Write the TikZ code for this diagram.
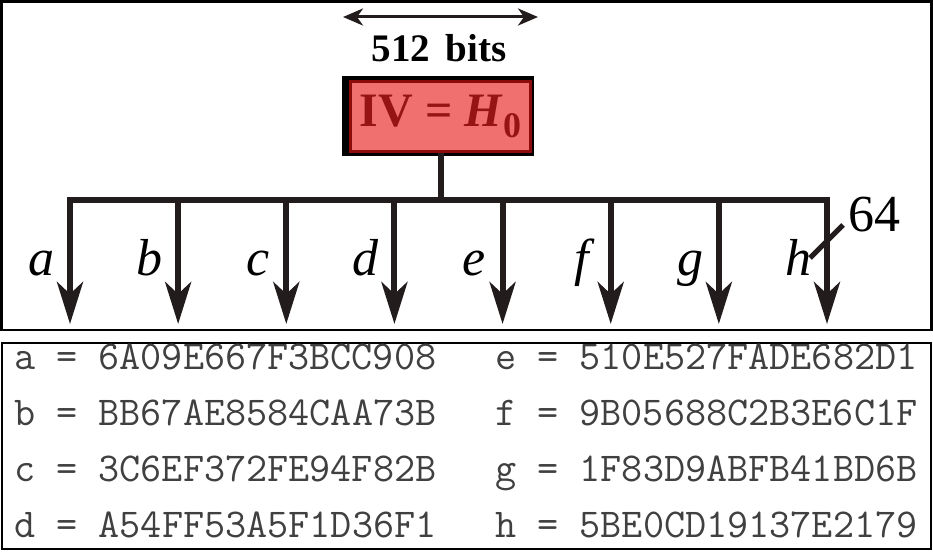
\documentclass[tikz,border=0pt]{standalone}
\usepackage{fontspec}
\setmainfont{Liberation Serif}
\usetikzlibrary{arrows.meta, positioning, calc}
\definecolor{ivfundo}{RGB}{240,112,112}
\definecolor{ivborda}{RGB}{140,12,12}
\definecolor{ivtexto}{RGB}{150,20,20}
\definecolor{seta}{RGB}{35,28,28}

\tikzset{
  ramo/.style={seta, line width=6pt, -{Stealth[length=42pt, width=26pt, inset=12pt]}},
  rotulo/.style={font=\fontsize{52}{52}\selectfont\itshape, anchor=base, inner sep=0pt},
  valor/.style={font=\fontsize{41}{41}\selectfont\ttfamily, text=black!75, anchor=base west, inner sep=0pt},
}

\begin{document}
\begin{tikzpicture}[x=1pt, y=-1pt]
    \useasboundingbox (0,0) rectangle (933,551);
    \draw[line width=2.5pt] (1.5,1.5) rectangle (931.5,330);
    \draw[line width=2pt] (2,343) rectangle (931,549);
    % largura do bloco
    \coordinate (w0) at (343,17);
    \coordinate (w1) at (538,17);
    \draw[seta, line width=3pt, {Stealth[length=20pt, width=17pt, inset=6pt]}-{Stealth[length=20pt, width=17pt, inset=6pt]}] (w0) -- (w1);
    \node[font=\fontsize{39}{39}\selectfont\bfseries, anchor=base, inner sep=0pt] (bits) at (439,62) {512\hspace{0.4em}bits};
    % valor inicial
    \fill[black] (342,76) rectangle (534,156);
    \node[fill=ivfundo, draw=ivborda, line width=3pt, minimum width=180pt, minimum height=70pt,
          text=ivtexto, font=\fontsize{48}{48}\selectfont\bfseries] (iv) at (440.5,116.5)
          {IV = \textit{H}\raisebox{-0.22em}{\fontsize{36}{36}\selectfont 0}};
    \foreach \i/\v in {0/a,1/b,2/c,3/d,4/e,5/f,6/g,7/h} {
        \coordinate (t\v) at (70+108.14*\i, 200);
        \coordinate (p\v) at (70+108.14*\i, 324);
        \draw[ramo] (t\v) -- (p\v);
        \node[rotulo] (r\v) at (41.5+108.14*\i, 275) {\v};
    }
    \draw[seta, line width=6pt, line cap=rect] (ta) -- (th);
    \draw[seta, line width=6pt] (iv.south) -- (iv.south |- ta);
    % 64 bits por palavra
    \coordinate (s0) at (810,258);
    \coordinate (s1) at (843,225);
    \draw[seta, line width=5pt] (s0) -- (s1);
    \node[font=\fontsize{52}{52}\selectfont, anchor=base west, inner sep=0pt] (n64) at (848,231) {64};
    % valores em hexadecimal
    \foreach \v/\h [count=\k from 0] in {a/6A09E667F3BCC908, b/BB67AE8584CAA73B, c/3C6EF372FE94F82B, d/A54FF53A5F1D36F1} {
        \node[valor] (v\v) at (14, 369+56.3*\k) {\v{} = \h};
    }
    \foreach \v/\h [count=\k from 0] in {e/510E527FADE682D1, f/9B05688C2B3E6C1F, g/1F83D9ABFB41BD6B, h/5BE0CD19137E2179} {
        \node[valor] (v\v) at (495, 369+56.3*\k) {\v{} = \h};
    }
\end{tikzpicture}
\end{document}
